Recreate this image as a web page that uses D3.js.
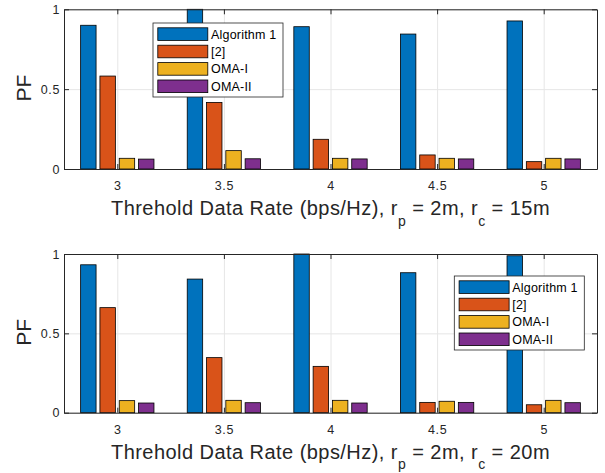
<!DOCTYPE html>
<html>
<head>
<meta charset="utf-8">
<script src="https://cdn.jsdelivr.net/npm/d3@7"></script>
<style>
  body { margin: 0; background: #fff; }
  svg { font-family: "Liberation Sans", Arial, Helvetica, sans-serif; }
</style>
</head>
<body>
<script>
// data
const categories = [3, 3.5, 4, 4.5, 5];
const seriesNames = ['Algorithm 1', '[2]', 'OMA-I', 'OMA-II'];
const colors = ['#0072BD', '#D95319', '#EDB120', '#7E2F8E'];

// r_c = 15m
const alg1Top = [0.900, 1.000, 0.891, 0.845, 0.927];
const ref2Top = [0.582, 0.417, 0.186, 0.088, 0.046];
const omaITop = [0.067, 0.115, 0.067, 0.067, 0.067];
const omaIITop = [0.062, 0.064, 0.063, 0.063, 0.063];

// r_c = 20m
const alg1Bot = [0.932, 0.842, 1.000, 0.882, 0.989];
const ref2Bot = [0.662, 0.347, 0.292, 0.065, 0.050];
const omaIBot = [0.076, 0.078, 0.078, 0.072, 0.078];
const omaIIBot = [0.061, 0.063, 0.061, 0.065, 0.063];

const xTicks = [3, 3.5, 4, 4.5, 5];
const yTicks = [0, 0.5, 1];
const yTickLabels = ['0', '0.5', '1'];

const W = 605, H = 473;
const axisColor = '#262626';
const svg = d3.select('body').append('svg').attr('width', W).attr('height', H);

function panel(top, bottom, values, rc, legendPos) {
    const left = 64, right = 597;
    const x = d3.scaleLinear().domain([2.75, 5.25]).range([left, right]);
    const y = d3.scaleLinear().domain([0, 1]).range([bottom, top]);
    const xs = d3.scaleBand().domain(seriesNames).range([-38.6, 38.6]).paddingInner(0.2).paddingOuter(0.1);

    const g = svg.append('g');

    // background + grid
    g.append('rect').attr('x', left).attr('y', top).attr('width', right - left).attr('height', bottom - top).attr('fill', '#fff');
    g.append('g').call(d3.axisBottom(x).tickValues(xTicks).tickSize(-(bottom - top)).tickFormat(''))
        .attr('transform', `translate(0,${bottom})`)
        .call(a => { a.select('.domain').remove(); a.selectAll('.tick line').attr('stroke', '#e6e6e6'); });
    g.append('g').call(d3.axisLeft(y).tickValues(yTicks).tickSize(-(right - left)).tickFormat(''))
        .attr('transform', `translate(${left},0)`)
        .call(a => { a.select('.domain').remove(); a.selectAll('.tick line').attr('stroke', '#e6e6e6'); });

    // bars
    seriesNames.forEach((s, si) => {
        g.append('g').selectAll('rect').data(values[si]).enter()
            .append('rect')
            .attr('x', (d, i) => x(categories[i]) + xs(s))
            .attr('y', d => y(d))
            .attr('width', xs.bandwidth())
            .attr('height', d => y(0) - y(d))
            .attr('fill', colors[si])
            .attr('stroke', '#000')
            .attr('stroke-width', 0.8);
    });

    // axes (box with inward ticks)
    const tk = 5;
    const xb = g.append('g').attr('transform', `translate(0,${bottom})`)
        .call(d3.axisBottom(x).tickValues(xTicks).tickSizeInner(-tk).tickSizeOuter(0).tickPadding(12.6).tickFormat(d3.format('')));
    const xt = g.append('g').attr('transform', `translate(0,${top})`)
        .call(d3.axisTop(x).tickValues(xTicks).tickSizeInner(-tk).tickSizeOuter(0).tickFormat(''));
    const yl = g.append('g').attr('transform', `translate(${left},0)`)
        .call(d3.axisLeft(y).tickValues(yTicks).tickSizeInner(-tk).tickSizeOuter(0).tickPadding(4).tickFormat((d, i) => yTickLabels[i]));
    const yr = g.append('g').attr('transform', `translate(${right},0)`)
        .call(d3.axisRight(y).tickValues(yTicks).tickSizeInner(-tk).tickSizeOuter(0).tickFormat(''));
    [xb, xt, yl, yr].forEach(a => {
        a.attr('font-size', 12.5).attr('font-family', null);
        a.select('.domain').attr('stroke', axisColor);
        a.selectAll('.tick line').attr('stroke', axisColor);
        a.selectAll('.tick text').attr('fill', axisColor).attr('letter-spacing', 0.6);
    });

    // y label
    g.append('text').text('PF')
        .attr('transform', `translate(31,${(top + bottom) / 2 - 1}) rotate(-90)`)
        .attr('text-anchor', 'middle').attr('font-size', 21).attr('fill', axisColor);

    // x label with subscripts
    const sub = 10.5;
    const t = g.append('text').attr('x', (left + right) / 2).attr('y', bottom + 46)
        .attr('text-anchor', 'middle').attr('font-size', 20).attr('letter-spacing', 0.45).attr('fill', axisColor);
    t.append('tspan').text('Threhold Data Rate (bps/Hz), r');
    t.append('tspan').text('p').attr('font-size', 14).attr('dy', sub);
    t.append('tspan').text(' = 2m, r').attr('dy', -sub);
    t.append('tspan').text('c').attr('font-size', 14).attr('dy', sub);
    t.append('tspan').text(` = ${rc}m`).attr('dy', -sub);

    // legend
    const lg = g.append('g').attr('transform', `translate(${legendPos[0]},${legendPos[1]})`);
    lg.append('rect').attr('width', 130).attr('height', 74).attr('fill', '#fff').attr('stroke', axisColor).attr('stroke-width', 0.8);
    seriesNames.forEach((s, si) => {
        lg.append('rect').attr('x', 4.8).attr('y', 4.8 + si * 17.4).attr('width', 50).attr('height', 12.6)
            .attr('fill', colors[si]).attr('stroke', '#000').attr('stroke-width', 0.8);
        lg.append('text').text(s).attr('x', 58).attr('y', 11.2 + si * 17.4).attr('dy', '0.35em')
            .attr('font-size', 12.5).attr('letter-spacing', 0.2).attr('fill', '#000');
    });
}

panel(9.3, 169, [alg1Top, ref2Top, omaITop, omaIITop], 15, [153, 23]);
panel(254, 412.7, [alg1Bot, ref2Bot, omaIBot, omaIIBot], 20, [454.3, 276]);
</script>
</body>
</html>
